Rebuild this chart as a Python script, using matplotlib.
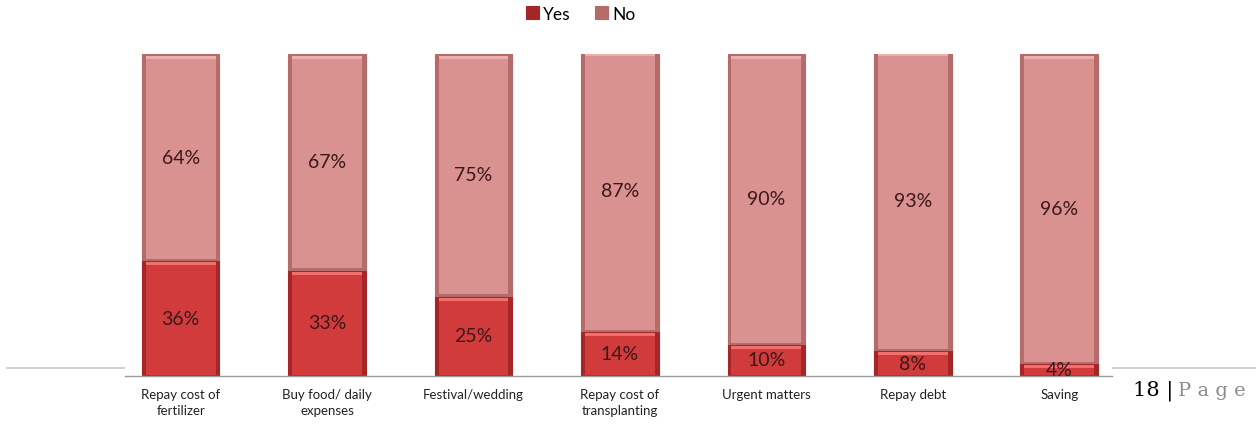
import matplotlib.pyplot as plt
from matplotlib.lines import Line2D
import numpy as np

# Uses of the money, share answering Yes / No (%)
categories = ['Repay cost of\nfertilizer', 'Buy food/ daily\nexpenses', 'Festival/wedding',
              'Repay cost of\ntransplanting', 'Urgent matters', 'Repay debt', 'Saving']
yes = [36, 33, 25, 14, 10, 8, 4]
no = [64, 67, 75, 87, 90, 93, 96]

plt.rcParams['font.family'] = ['Lato', 'DejaVu Sans']

yes_face, yes_edge, yes_hi = '#D23B3B', '#A52626', '#F07070'
no_face, no_edge, no_hi = '#D99290', '#B56B6A', '#E9B0AE'

fig = plt.figure(figsize=(12.56, 4.31), dpi=100)
ax = fig.add_axes([125 / 1256, 1 - 377 / 431, (1112 - 125) / 1256, (377 - 55) / 431])

x = np.arange(len(categories))
w = 0.53


def bevel_bar(xs, heights, bottoms, face, edge, hi, label):
    # base bar with a darker rim, then a lighter inset and a top highlight strip
    ax.bar(xs, heights, w, bottom=bottoms, color=edge, edgecolor=edge, linewidth=0.8,
           label=label, zorder=2)
    ax.bar(xs, np.array(heights) - 1.2, w * 0.9, bottom=np.array(bottoms) + 0.4,
           color=face, linewidth=0, zorder=3)
    ax.bar(xs, 0.9, w * 0.9, bottom=np.array(bottoms) + np.array(heights) - 1.6,
           color=hi, linewidth=0, zorder=4)


bevel_bar(x, yes, [0] * len(x), yes_face, yes_edge, yes_hi, 'Yes')
bevel_bar(x, no, yes, no_face, no_edge, no_hi, 'No')

for i in range(len(x)):
    ax.text(x[i], yes[i] / 2, f'{yes[i]}%', ha='center', va='center',
            fontsize=14, color='#3a1818', zorder=5)
    ax.text(x[i], yes[i] + no[i] / 2, f'{no[i]}%', ha='center', va='center',
            fontsize=14, color='#3a1818', zorder=5)

ax.set_xlim(-0.38, 6.36)
ax.set_ylim(0, 100)
ax.set_yticks([])
ax.set_xticks(x)
ax.set_xticklabels(categories, fontsize=9.5, color='#222222', linespacing=1.35)
ax.tick_params(axis='x', length=0, pad=9)
for s in ['top', 'left', 'right']:
    ax.spines[s].set_visible(False)
ax.spines['bottom'].set_color('#9a9a9a')
ax.spines['bottom'].set_linewidth(1.0)

ax.legend(loc='center', bbox_to_anchor=(0.462, 1.125), ncol=2, frameon=False,
          fontsize=12.5, handlelength=0.75, handleheight=0.75, handletextpad=0.25,
          columnspacing=1.4)

# page footer rule and page number
fig.lines.append(Line2D([7 / 1256, 1], [1 - 369 / 431] * 2, transform=fig.transFigure,
                        color='#c8c8c8', linewidth=1.2, zorder=-1))
num = fig.text(1133 / 1256, 1 - 391 / 431, '18 |', fontsize=15, family='DejaVu Serif',
               color='black', ha='left', va='center')
fig.text(1178 / 1256, 1 - 391 / 431, 'P a g e', fontsize=14, family='DejaVu Serif',
         color='#8c8c8c', ha='left', va='center')

fig.savefig('out.png', dpi=100)
